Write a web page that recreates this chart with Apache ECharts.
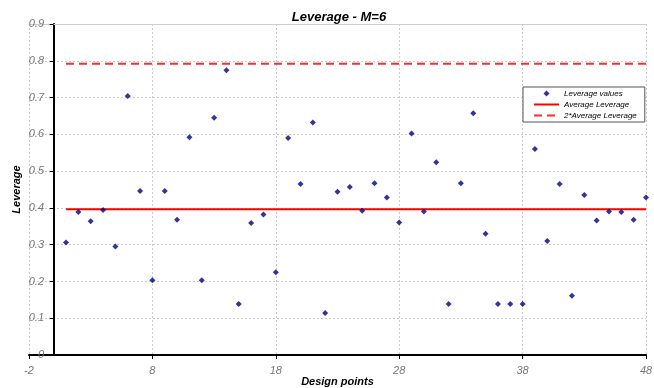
<!DOCTYPE html>
<html>
<head>
<meta charset="utf-8">
<script src="https://cdn.jsdelivr.net/npm/echarts@6/dist/echarts.min.js"></script>
<style>
html,body{margin:0;padding:0;background:#fff;}
#chart{width:654px;height:388px;}
</style>
</head>
<body>
<div id="chart"></div>
<script>
// Design point indices
const designPoints = [1,2,3,4,5,6,7,8,9,10,11,12,13,14,15,16,17,18,19,20,21,22,23,24,25,26,27,28,29,30,31,32,33,34,35,36,37,38,39,40,41,42,43,44,45,46,47,48];
// Leverage values
const leverageValues = [0.306,0.389,0.364,0.394,0.295,0.704,0.446,0.203,0.446,0.368,0.592,0.203,0.645,0.774,0.139,0.359,0.382,0.225,0.590,0.465,0.632,0.114,0.444,0.457,0.392,0.467,0.428,0.360,0.602,0.390,0.524,0.139,0.467,0.657,0.330,0.139,0.139,0.139,0.560,0.310,0.465,0.161,0.435,0.366,0.390,0.389,0.368,0.428];
// Reference lines
const avgLeverage = 0.396;
const doubleAvgLeverage = 0.792;
const refLineX = [1, 48];
const xTicks = [-2, 8, 18, 28, 38, 48];
const yTicks = [0,0.1,0.2,0.3,0.4,0.5,0.6,0.7,0.8,0.9];

const FONT = 'Liberation Sans, Arial, sans-serif';
const chart = echarts.init(document.getElementById('chart'), null, {renderer:'canvas'});

const scatterData = designPoints.map((x,i)=>[x, leverageValues[i]]);
const avgData = refLineX.map(x=>[x, avgLeverage]);
const dblData = refLineX.map(x=>[x, doubleAvgLeverage]);
const hiddenSymbol = {color:'rgba(0,0,0,0)', opacity:0, borderWidth:0};

chart.setOption({
  animation:false,
  backgroundColor:'#fff',
  textStyle:{fontFamily:FONT},
  title:{
    text:'Leverage - M=6',
    left:334, top:6, textAlign:'center',
    textStyle:{fontFamily:FONT, fontSize:13, fontWeight:'bold', fontStyle:'italic', color:'#000'}
  },
  grid:{left:29, right:8, top:24, bottom:33, containLabel:false, outerBoundsMode:'none'},
  legend:{
    orient:'vertical',
    left:523, top:87,
    padding:[1,8,1,10],
    itemGap:0,
    itemWidth:25, itemHeight:6,
    backgroundColor:'#fff',
    borderColor:'#555', borderWidth:1,
    textStyle:{fontFamily:FONT, fontSize:8, fontStyle:'italic', color:'#000', lineHeight:11},
    data:[
      {name:'Leverage values', icon:'path://M0,-1 L1,0 L0,1 L-1,0 Z'},
      {name:'Average Leverage', itemStyle:hiddenSymbol},
      {name:'2*Average Leverage', itemStyle:hiddenSymbol}
    ]
  },
  xAxis:[{
    type:'value', min:xTicks[0], max:xTicks[xTicks.length-1], interval:10,
    name:'Design points', nameLocation:'middle', nameGap:21, nameMoveOverlap:false,
    nameTextStyle:{fontFamily:FONT, fontSize:11, fontWeight:'bold', fontStyle:'italic', color:'#000'},
    axisLine:{onZero:true, lineStyle:{color:'#000', width:2}},
    axisTick:{show:true, length:4, lineStyle:{color:'#000'}},
    axisLabel:{fontFamily:FONT, fontSize:11, fontStyle:'italic', color:'#777', margin:10},
    splitLine:{show:true, lineStyle:{color:'#ccc', type:[2,2], width:1}}
  },{
    type:'value', position:'top', min:xTicks[0], max:xTicks[xTicks.length-1],
    axisLine:{show:true, onZero:false, lineStyle:{color:'#ccc', width:1}},
    axisTick:{show:false}, axisLabel:{show:false}, splitLine:{show:false}
  }],
  yAxis:{
    type:'value', min:yTicks[0], max:yTicks[yTicks.length-1], interval:0.1,
    name:'Leverage', nameLocation:'middle', nameGap:7, nameRotate:90, nameMoveOverlap:false,
    nameTextStyle:{fontFamily:FONT, fontSize:11, fontWeight:'bold', fontStyle:'italic', color:'#000'},
    axisLine:{show:true, onZero:true, lineStyle:{color:'#000', width:2}},
    axisTick:{show:true, length:4, lineStyle:{color:'#000'}},
    axisLabel:{fontFamily:FONT, fontSize:11, fontStyle:'italic', color:'#777', margin:-15,
      formatter:v=>String(Math.round(v*10)/10)},
    splitLine:{show:true, lineStyle:{color:'#ccc', type:[2,2], width:1}}
  },
  series:[
    {
      name:'Leverage values', type:'scatter', data:scatterData,
      symbol:'diamond', symbolSize:6,
      itemStyle:{color:'#000080'}, z:5
    },
    {
      name:'Average Leverage', type:'line', data:avgData,
      symbol:'none', lineStyle:{color:'#ff0000', width:2}, itemStyle:{color:'#ff0000'}, z:3
    },
    {
      name:'2*Average Leverage', type:'line', data:dblData,
      symbol:'none', lineStyle:{color:'#ff2a2a', width:2, type:[8,5]}, itemStyle:{color:'#ff2a2a'}, z:3
    }
  ]
});
</script>
</body>
</html>
